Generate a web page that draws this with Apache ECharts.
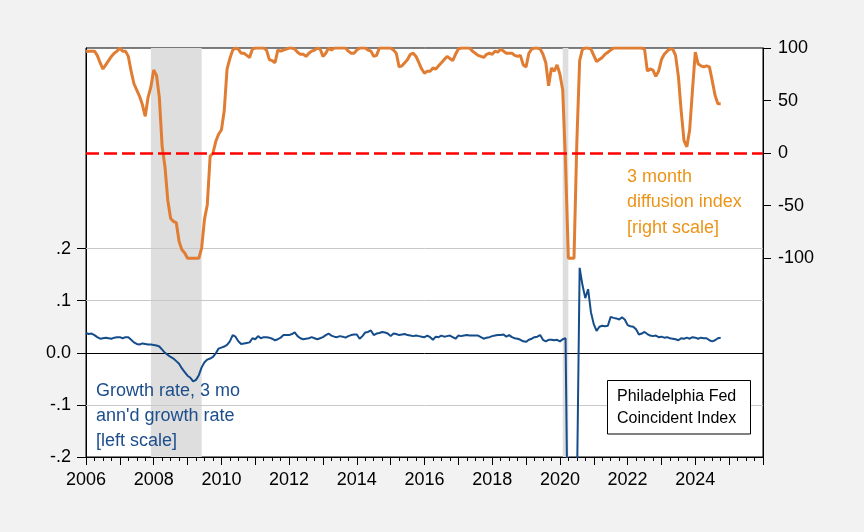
<!DOCTYPE html>
<html>
<head>
<meta charset="utf-8">
<script src="https://cdn.jsdelivr.net/npm/echarts@6/dist/echarts.min.js"></script>
<style>
html,body{margin:0;padding:0;background:#f2f2f2;}
#chart{width:864px;height:532px;}
</style>
</head>
<body>
<div id="chart"></div>
<script>
// ---- data ----
const startYear = 2006;
const startMonth = 1;

// 3 month diffusion index (right scale), monthly from 2006-01
const diffusion = [
  97,97,97,97,93,86,80,84,88,92,
  95,97,100,97,97,92,78,66,60,54,
  46,35,53,63,79,74,53,6,-13,-45,
  -62,-65,-66,-84,-92,-95,-100,-100,-100,-100,
  -100,-90,-63,-49,-3,0,11,18,22,40,
  80,90,98,100,99,95,95,93,91,99,
  100,100,100,100,98,89,88,86,98,97,
  98,99,100,100,99,96,94,94,92,95,
  97,98,100,99,92,95,100,98,100,100,
  100,100,100,97,95,95,98,100,100,100,
  98,97,92,93,100,100,100,100,100,98,
  95,82,83,86,89,94,95,92,86,80,
  76,78,78,81,80,83,86,89,92,90,
  88,94,99,100,100,100,100,97,95,93,
  92,91,94,95,94,97,96,99,97,95,
  95,95,93,92,93,84,82,95,99,100,
  100,99,94,86,64,81,78,84,75,60,
  -10,-100,-100,-100,10,88,99,100,100,99,
  93,87,89,91,94,96,98,100,100,100,
  100,100,100,100,100,100,100,100,99,78,
  80,79,73,78,89,94,97,99,99,93,
  73,40,12,6,22,60,96,85,83,82,
  83,82,69,55,47,47
];

// Growth rate, 3 mo annualized (left scale), monthly from 2006-01
const growth = [
  .038,.036,.037,.034,.030,.027,.028,.029,.028,.027,
  .029,.030,.030,.028,.030,.030,.025,.020,.017,.016,
  .018,.017,.016,.016,.015,.014,.012,.006,.000,-.004,
  -.008,-.011,-.016,-.021,-.030,-.037,-.044,-.048,-.055,-.052,
  -.043,-.028,-.018,-.013,-.011,-.008,-.001,.008,.010,.012,
  .015,.022,.034,.031,.022,.017,.018,.019,.020,.028,
  .026,.032,.028,.030,.030,.029,.027,.024,.026,.029,
  .034,.034,.034,.036,.039,.032,.028,.026,.027,.028,
  .030,.028,.026,.028,.030,.034,.037,.033,.031,.030,
  .032,.031,.029,.032,.034,.035,.035,.027,.032,.039,
  .040,.043,.034,.037,.038,.040,.039,.037,.032,.037,
  .036,.034,.035,.036,.034,.033,.032,.033,.032,.031,
  .030,.033,.030,.025,.031,.030,.033,.031,.032,.033,
  .030,.027,.033,.032,.033,.034,.033,.033,.033,.033,
  .030,.027,.029,.030,.032,.033,.034,.034,.035,.031,
  .034,.030,.028,.027,.025,.022,.021,.025,.027,.030,
  .031,.034,.025,.022,.025,.025,.024,.025,.022,.026,
  .028,-.45,-.75,-.40,-.28,.163,.130,.105,.122,.078,
  .055,.042,.050,.052,.051,.052,.069,.067,.066,.064,
  .068,.064,.053,.051,.050,.045,.035,.037,.040,.036,
  .033,.032,.033,.030,.031,.029,.030,.028,.027,.026,
  .024,.028,.027,.029,.027,.030,.029,.027,.029,.028,
  .028,.024,.022,.024,.028,.029
];

const recessions = [['2007-12','2009-06'],['2020-02','2020-04']];

const xMin = 2006, xMax = 2026;
const yearLabels = [2006,2008,2010,2012,2014,2016,2018,2020,2022,2024];
const leftTicks = [-0.2,-0.1,0,0.1,0.2];
const leftTickLabels = ['-.2','-.1','0.0','.1','.2'];
const leftGrid = [-0.1,0.1,0.2];
const leftMin = -0.2, leftMax = 0.585;
const rightTicks = [-100,-50,0,50,100];
const rightMin = -289, rightMax = 100;

const growthLabel = "Growth rate, 3 mo\nann'd growth rate\n[left scale]";
const diffLabel = "3 month\ndiffusion index\n[right scale]";
const boxLabel = "Philadelphia Fed\nCoincident Index";

// ---- build ----
function dec(i){ return startYear + (startMonth - 1 + i) / 12; }
function ymToDec(s){ const p = s.split('-'); return +p[0] + (+p[1] - 1) / 12; }
const diffData = diffusion.map((v,i)=>[dec(i), v]);
const growthData = growth.map((v,i)=>[dec(i), v]);

const FONT = 'Liberation Sans, Arial, sans-serif';
const chart = echarts.init(document.getElementById('chart'));

chart.setOption({
  animation: false,
  backgroundColor: '#f2f2f2',
  grid: {left: 86, top: 48, width: 677, height: 409, show: true,
         backgroundColor: '#ffffff', borderColor: '#000', borderWidth: 1},
  xAxis: {
    type: 'value', min: xMin, max: xMax, interval: 1,
    axisLine: {show: true, onZero: false, lineStyle: {color: '#000', width: 1}},
    axisTick: {show: true, length: 8, lineStyle: {color: '#000'}},
    minorTick: {show: true, splitNumber: 4, length: 4, lineStyle: {color: '#000'}},
    splitLine: {show: false},
    axisLabel: {
      color: '#000', fontFamily: FONT, fontSize: 18, margin: 14,
      formatter: v => yearLabels.indexOf(Math.round(v)) >= 0 && Math.abs(v - Math.round(v)) < 1e-6 ? String(Math.round(v)) : ''
    }
  },
  yAxis: [{
    type: 'value', position: 'left', min: leftMin, max: leftMax,
    axisLine: {show: true, onZero: false, lineStyle: {color: '#000'}},
    axisTick: {show: true, length: 9, customValues: leftTicks, lineStyle: {color: '#000'}},
    splitLine: {show: false},
    axisLabel: {
      color: '#000', fontFamily: FONT, fontSize: 18, margin: 15, customValues: leftTicks,
      formatter: v => { for (let k = 0; k < leftTicks.length; k++) if (Math.abs(v - leftTicks[k]) < 1e-6) return leftTickLabels[k]; return ''; }
    }
  }, {
    type: 'value', position: 'right', min: rightMin, max: rightMax,
    axisLine: {show: true, onZero: false, lineStyle: {color: '#000'}},
    axisTick: {show: true, length: 8, customValues: rightTicks, lineStyle: {color: '#000'}},
    splitLine: {show: false},
    axisLabel: {
      color: '#000', fontFamily: FONT, fontSize: 18, margin: 15, customValues: rightTicks,
      formatter: v => rightTicks.indexOf(Math.round(v)) >= 0 && Math.abs(v - Math.round(v)) < 1e-6 ? String(Math.round(v)) : ''
    }
  }],
  series: [{
    name: 'bg', type: 'line', data: [], xAxisIndex: 0, yAxisIndex: 0, silent: true,
    markArea: {
      silent: true, z: 1,
      itemStyle: {color: '#dedede'},
      data: recessions.map(r => [{xAxis: ymToDec(r[0])}, {xAxis: ymToDec(r[1])}])
    },
    markLine: {
      silent: true, z: 1.5, symbol: 'none', label: {show: false},
      data: leftGrid.map(v => ({yAxis: v, lineStyle: {color: '#c8c8c8', width: 1, type: 'solid'}}))
        .concat([{yAxis: 0, lineStyle: {color: '#000', width: 1, type: 'solid'}}])
    }
  }, {
    name: 'diffusion', type: 'line', data: diffData, xAxisIndex: 0, yAxisIndex: 1,
    showSymbol: false, z: 3, clip: true,
    lineStyle: {color: '#e07d33', width: 3},
    markLine: {
      silent: true, symbol: 'none', label: {show: false},
      data: [{yAxis: 0, lineStyle: {color: '#ff0000', width: 2.5, type: [13, 5]}}]
    }
  }, {
    name: 'growth', type: 'line', data: growthData, xAxisIndex: 0, yAxisIndex: 0,
    showSymbol: false, z: 4, clip: true,
    lineStyle: {color: '#154c8a', width: 2}
  }],
  graphic: [
    {type: 'text', z: 100, style: {x: 627, y: 164, text: diffLabel, font: '18px ' + FONT, fill: '#ec9418', lineHeight: 25.5}},
    {type: 'text', z: 100, style: {x: 96, y: 379, text: growthLabel, font: '18px ' + FONT, fill: '#1d4e8c', lineHeight: 25}},
    {type: 'rect', z: 100, shape: {x: 607.5, y: 380.5, width: 143, height: 53.5}, style: {fill: '#fff', stroke: '#000', lineWidth: 1}},
    {type: 'text', z: 101, style: {x: 617, y: 385, text: boxLabel, font: '16px ' + FONT, fill: '#000', lineHeight: 22.3}}
  ]
});
</script>
</body>
</html>
